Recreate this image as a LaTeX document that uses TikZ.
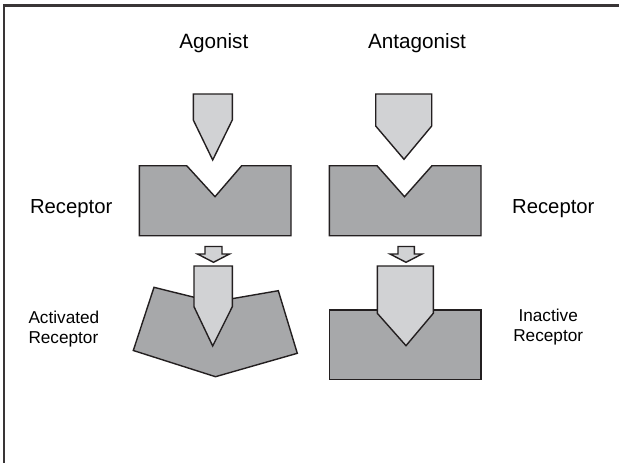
\documentclass[tikz,border=0pt]{standalone}
\usepackage{fontspec}
\setmainfont{Liberation Sans}
\definecolor{recgray}{HTML}{A7A8AA}
\definecolor{druggray}{HTML}{D1D2D4}
\definecolor{edge}{HTML}{231F20}
\begin{document}
\begin{tikzpicture}[x=1pt,y=-1pt,
  receptor/.style={fill=recgray,draw=edge,line width=1.4pt,line join=miter},
  drug/.style={fill=druggray,draw=edge,line width=1.4pt,line join=miter},
  bigtext/.style={font=\fontsize{20.7}{24}\selectfont,inner sep=0pt,anchor=base},
  smalltext/.style={font=\fontsize{17.2}{20}\selectfont,inner sep=0pt}]
\useasboundingbox (0,0) rectangle (619,463);
\fill[white] (0,0) rectangle (619,463);
% frame (top and left edges)
\draw[line width=2.3pt,color=edge!90] (3.8,463) -- (3.8,5.5) -- (619,5.5);

% titles
\node[bigtext] (agon) at (213.8,48.3) {Agonist};
\node[bigtext] (antag) at (417,48.3) {Antagonist};
\node[bigtext,font=\fontsize{20.3}{24}\selectfont] (recL) at (71.2,213.3) {Receptor};
\node[bigtext,font=\fontsize{20.3}{24}\selectfont] (recR) at (553.3,213.3) {Receptor};
\node[smalltext,anchor=base west] (act1) at (28.3,323.3) {Activated};
\node[smalltext,anchor=base west] (act2) at (28.3,343.3) {Receptor};
\node[smalltext,anchor=base] (ina1) at (548.2,321.7) {Inactive};
\node[smalltext,anchor=base] (ina2) at (548.2,341.7) {Receptor};

% top row: drugs
\draw[drug] (193.3,94) -- (232.3,94) -- (232.3,120) -- (212.7,160) -- (193.3,120) -- cycle;
\draw[drug] (375.7,94) -- (431.7,94) -- (431.7,126) -- (404,159.3) -- (375.7,126) -- cycle;

% receptors
\draw[receptor] (139.3,165.7) -- (186.7,165.7) -- (215,196.7) -- (241.7,165.7) -- (291,165.7)
  -- (291,235.7) -- (139.3,235.7) -- cycle;
\draw[receptor] (329.3,165.7) -- (377,165.7) -- (404.5,196.7) -- (432,165.7) -- (481,165.7)
  -- (481,235.7) -- (329.3,235.7) -- cycle;

% small block arrows
\draw[drug] (205,246.5) -- (222,246.5) -- (222,254) -- (229.5,254) -- (213.5,262.3)
  -- (197.5,254) -- (205,254) -- cycle;
\draw[drug] (398,246.5) -- (414.3,246.5) -- (414.3,254) -- (422,254) -- (406,262.3)
  -- (390,254) -- (398,254) -- cycle;

% activated receptor
\draw[receptor] (154,287.3) -- (213,302) -- (278.3,290.7) -- (297.3,353.3) -- (215.5,376.7)
  -- (133.3,350.5) -- cycle;
\draw[drug] (194,266) -- (232.3,266) -- (232.3,306.7) -- (212.7,346) -- (194,306.7) -- cycle;

% inactive receptor
\draw[receptor] (329.3,310) rectangle (481,379.3);
\draw[drug] (377.3,266) -- (433.3,266) -- (433.3,313.3) -- (406,345.7) -- (377.3,313.3) -- cycle;
\end{tikzpicture}
\end{document}
